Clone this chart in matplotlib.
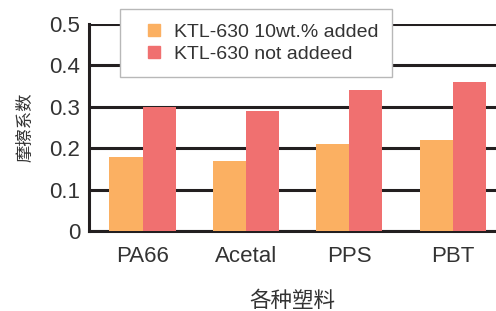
import matplotlib
matplotlib.use('Agg')
import matplotlib.pyplot as plt
from matplotlib.lines import Line2D
import numpy as np

plt.rcParams['font.family'] = ['Liberation Sans', 'Noto Sans CJK SC', 'DejaVu Sans']

categories = ['PA66', 'Acetal', 'PPS', 'PBT']
added = [0.18, 0.17, 0.21, 0.22]
not_added = [0.30, 0.29, 0.34, 0.36]
labels = ['KTL-630 10wt.% added', 'KTL-630 not addeed']
yticks = [0, 0.1, 0.2, 0.3, 0.4, 0.5]

ORANGE = '#FBB062'
RED = '#F07070'
TXT = '#333333'
LINE = '#231f20'

fig = plt.figure(figsize=(4.96, 3.11), dpi=100)
ax = fig.add_axes([0.179, 0.257, 0.821, 0.666])

x = np.arange(len(categories))
w = 0.32
ax.bar(x - w/2, added, w, color=ORANGE, zorder=3)
ax.bar(x + w/2, not_added, w, color=RED, zorder=3)

ax.set_xlim(-0.52, 3.42)
ax.set_ylim(0, 0.5)
ax.set_yticks(yticks)
ax.set_yticklabels(['0', '0.1', '0.2', '0.3', '0.4', '0.5'])
ax.set_xticks(x)
ax.set_xticklabels(categories)
ax.tick_params(length=0, labelsize=16, colors=TXT, pad=6)
ax.tick_params(axis='x', pad=11)
ax.yaxis.grid(True, color=LINE, lw=2.2, zorder=0)
ax.set_axisbelow(True)
for s in ['top', 'right']:
    ax.spines[s].set_visible(False)
for s in ['left', 'bottom']:
    ax.spines[s].set_color(LINE)
    ax.spines[s].set_linewidth(2.2)

ax.set_ylabel('摩擦系数', fontsize=12.5, color=TXT)
ax.yaxis.set_label_coords(-0.135, 0.5)
ax.set_xlabel('各种塑料', fontsize=15.5, color=TXT, labelpad=17)

handles = [Line2D([], [], marker='s', ls='', markersize=8, color=c) for c in (ORANGE, RED)]
leg = ax.legend(handles, labels, loc='upper left', bbox_to_anchor=(0.076, 1.072),
                fontsize=14, frameon=True, fancybox=False, edgecolor='#b8b8b8',
                framealpha=1, numpoints=1, handlelength=2.05, handletextpad=0.0,
                borderpad=0.72, labelspacing=0.25, borderaxespad=0)
leg.get_frame().set_linewidth(1.0)
for t in leg.get_texts():
    t.set_color(TXT)
leg.set_zorder(5)

fig.savefig('out.png', dpi=100)
